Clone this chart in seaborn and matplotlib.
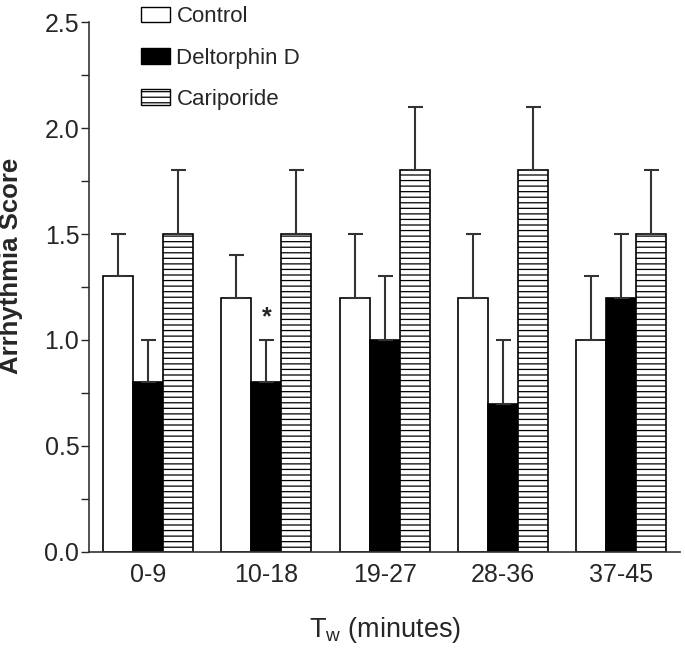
import matplotlib
matplotlib.use("Agg")
import matplotlib.pyplot as plt
from matplotlib.patches import Patch
from matplotlib.ticker import MultipleLocator
import seaborn as sns
import pandas as pd

# Data
periods = ["0-9", "10-18", "19-27", "28-36", "37-45"]
groups = ["Control", "Deltorphin D", "Cariporide"]
control = [1.3, 1.2, 1.2, 1.2, 1.0]
control_err = [0.2, 0.2, 0.3, 0.3, 0.3]
deltorphin = [0.8, 0.8, 1.0, 0.7, 1.2]
deltorphin_err = [0.2, 0.2, 0.3, 0.3, 0.3]
cariporide = [1.5, 1.5, 1.8, 1.8, 1.5]
cariporide_err = [0.3, 0.3, 0.3, 0.3, 0.3]
star_period = "10-18"
star_group = "Deltorphin D"

sns.set_style("ticks")
plt.rcParams["font.family"] = ["Liberation Sans", "DejaVu Sans"]
plt.rcParams["mathtext.fontset"] = "custom"
plt.rcParams["mathtext.rm"] = "Liberation Sans"
plt.rcParams["hatch.linewidth"] = 0.9

df = pd.DataFrame({
    "period": periods * 3,
    "group": [g for g in groups for _ in periods],
    "score": control + deltorphin + cariporide,
})
errs = {"Control": control_err, "Deltorphin D": deltorphin_err,
        "Cariporide": cariporide_err}
fills = {"Control": "white", "Deltorphin D": "black", "Cariporide": "white"}
hatches = {"Control": "", "Deltorphin D": "", "Cariporide": "---"}

fig = plt.figure(figsize=(6.85, 6.5), dpi=100)
ax = fig.add_axes([0.130, 0.151, 0.863, 0.815])

sns.barplot(data=df, x="period", y="score", hue="group", order=periods,
            hue_order=groups, palette=fills, edgecolor="black", linewidth=1.2,
            width=0.76, errorbar=None, saturation=1, legend=False, ax=ax)

# hatch + one-sided error bars
for cont, g in zip(ax.containers, groups):
    for bar, e in zip(cont, errs[g]):
        bar.set_hatch(hatches[g])
        bx = bar.get_x() + bar.get_width() / 2
        ax.errorbar(bx, bar.get_height(), yerr=[[0], [e]], fmt="none",
                    ecolor="#333333", elinewidth=1.5, capsize=5.4,
                    capthick=1.5, zorder=1)

# significance star
ci = groups.index(star_group)
bar = ax.containers[ci][periods.index(star_period)]
ax.text(bar.get_x() + bar.get_width() / 2, 1.05, "*", ha="center",
        va="bottom", fontsize=18, fontweight="bold")

ax.set_xlim(-0.5, 4.5)
ax.set_ylim(0, 2.5)
ax.yaxis.set_major_locator(MultipleLocator(0.5))
ax.yaxis.set_minor_locator(MultipleLocator(0.25))
ax.yaxis.set_major_formatter(plt.FormatStrFormatter("%.1f"))
ax.tick_params(axis="y", which="major", length=6, width=1, labelsize=18, pad=1)
ax.tick_params(axis="y", which="minor", length=6, width=1)
ax.tick_params(axis="x", length=0, labelsize=18, pad=8)
sns.despine(ax=ax)
for s in ["left", "bottom"]:
    ax.spines[s].set_linewidth(1.2)
    ax.spines[s].set_color("#333333")

ax.set_ylabel("Arrhythmia Score", fontsize=18.5, fontweight="bold")
ax.yaxis.set_label_coords(-0.112, 0.54)
ax.set_xlabel(r"T$_{\mathrm{w}}$ (minutes)", fontsize=19.5, labelpad=20)

handles = [Patch(facecolor=fills[g], edgecolor="black", hatch=hatches[g],
                 linewidth=1, label=g) for g in groups]
fig.legend(handles=handles, loc="upper left", bbox_to_anchor=(0.183, 1.014),
           frameon=False, fontsize=16, handlelength=1.3, handleheight=0.68,
           labelspacing=0.91, handletextpad=0.3, borderpad=0.2)

fig.savefig("out.png", dpi=100)
